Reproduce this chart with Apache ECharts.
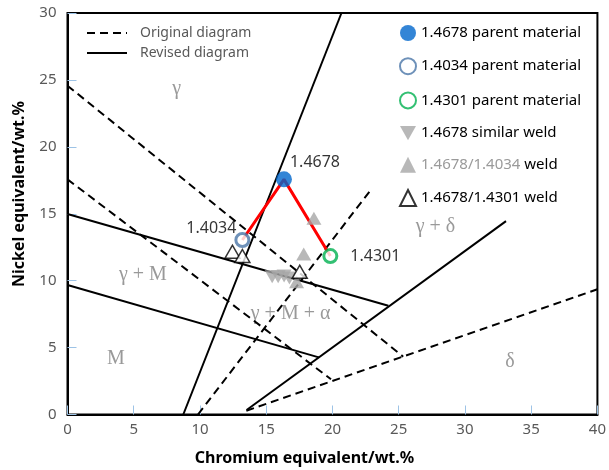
<!DOCTYPE html>
<html>
<head>
<meta charset="utf-8">
<script src="https://cdn.jsdelivr.net/npm/echarts@6/dist/echarts.min.js"></script>
<style>html,body{margin:0;padding:0;background:#fff}#c{width:609px;height:470px}</style>
</head>
<body>
<div id="c"></div>
<script>
// ---- data ----
const xTicks = [0,5,10,15,20,25,30,35,40];
const yTicks = [0,5,10,15,20,25,30];
const revisedLines = [
  [[8.74,0],[20.68,30]],
  [[0,14.98],[24.22,8.13]],
  [[0,9.68],[18.97,4.27]],
  [[13.52,0.34],[33.1,14.45]]
];
const originalLines = [
  [[0,24.57],[25.34,4.32]],
  [[0,17.57],[19.89,2.63]],
  [[9.85,0],[23.0,16.92]],
  [[13.5,0.28],[40,9.36]]
];
const parent4678 = [[16.34,17.57]];
const parent4034 = [[13.2,13.04]];
const parent4301 = [[19.84,11.84]];
const connector = [[13.2,13.04],[16.34,17.57],[19.84,11.84]];
const similarWeld = [[15.45,10.3],[15.9,10.3],[16.35,10.35],[16.75,10.2]];
const weld4034 = [[18.6,14.66],[17.83,11.99],[17.29,9.92]];
const weld4301 = [[12.45,12.16],[13.2,11.84],[17.53,10.67]];
const regionNames = ['γ','γ + δ','γ + M','γ + M + α','M','δ'];
const regionPos = [[8.24,24.37],[27.77,14.01],[5.69,10.42],[16.84,7.56],[3.66,4.15],[33.4,3.95]];

const names = ['1.4678 parent material','1.4034 parent material','1.4301 parent material','1.4678 similar weld','1.4678/1.4034 weld','1.4678/1.4301 weld'];

const chart = echarts.init(document.getElementById('c'));
const FONT = 'Noto Sans';
const series = [];
originalLines.forEach(seg => series.push({
  name:'Original diagram', type:'line', data:seg, symbol:'none', silent:true, z:2,
  itemStyle:{color:'#000'},
  lineStyle:{color:'#000', width:2, type:[8,5]}
}));
revisedLines.forEach(seg => series.push({
  name:'Revised diagram', type:'line', data:seg, symbol:'none', silent:true, z:2,
  itemStyle:{color:'#000'},
  lineStyle:{color:'#000', width:2, type:'solid'}
}));
series.push({type:'line', name:'conn', data:connector, symbol:'none', silent:true, z:3,
  lineStyle:{color:'#ff0000', width:3}});
series.push({type:'scatter', name:'regions', z:1, silent:true, symbolSize:0,
  data: regionPos.map((p,i)=>({value:p, name:regionNames[i]})),
  label:{show:true, position:'inside', formatter:p=>p.name, color:'#808080',
    fontFamily:'Liberation Serif', fontSize:20}});
const down = 'path://M0,0L10,0L5,9Z';
series.push({type:'scatter', name:names[3], data:similarWeld, symbol:down, symbolSize:[15,13], z:4,
  itemStyle:{color:'#a6a6a6'}});
series.push({type:'scatter', name:names[4], data:weld4034, symbol:'triangle', symbolSize:[15,13], z:4,
  itemStyle:{color:'#a6a6a6'}});
series.push({type:'scatter', name:names[5], data:weld4301, symbol:'triangle', symbolSize:[15,13], z:5,
  itemStyle:{color:'#fff', borderColor:'#000', borderWidth:1.5}});
series.push({type:'scatter', name:names[0], data:parent4678, symbol:'circle', symbolSize:16, z:6,
  itemStyle:{color:'#0066cc'},
  label:{show:true, position:'right', distance:0, offset:[-2,-17], formatter:'1.4678', color:'#000', fontFamily:FONT, fontSize:16}});
series.push({type:'scatter', name:names[1], data:parent4034, symbol:'circle', symbolSize:13, z:6,
  itemStyle:{color:'#fff', borderColor:'#4a76a8', borderWidth:3},
  label:{show:true, position:'left', distance:0, offset:[2,-12], formatter:'1.4034', color:'#000', fontFamily:FONT, fontSize:16}});
series.push({type:'scatter', name:names[2], data:parent4301, symbol:'circle', symbolSize:13, z:6,
  itemStyle:{color:'#fff', borderColor:'#00b050', borderWidth:3},
  label:{show:true, position:'right', distance:12, formatter:'1.4301', color:'#000', fontFamily:FONT, fontSize:16}});

chart.setOption({
  animation:false,
  grid:{left:67.5, right:3.5, top:13, bottom:55.5, show:true, borderColor:'#000', borderWidth:2, containLabel:false},
  xAxis:{type:'value', min:xTicks[0], max:xTicks[xTicks.length-1], interval:5,
    axisLine:{show:true, lineStyle:{color:'#000', width:2}},
    axisTick:{show:true, inside:true, length:9, lineStyle:{color:'#9dc3e6', width:1}},
    axisLabel:{color:'#595959', fontFamily:FONT, fontSize:15, margin:8},
    splitLine:{show:false}},
  yAxis:{type:'value', min:yTicks[0], max:yTicks[yTicks.length-1], interval:5,
    axisLine:{show:true, lineStyle:{color:'#000', width:2}},
    axisTick:{show:true, inside:true, length:9, lineStyle:{color:'#9dc3e6', width:1}},
    axisLabel:{color:'#595959', fontFamily:FONT, fontSize:15, margin:11},
    splitLine:{show:false}},
  legend:[
    {data:['Original diagram','Revised diagram'], orient:'vertical', left:81, top:21,
     itemWidth:40, itemHeight:14, itemGap:6, itemStyle:{opacity:0}, lineStyle:{width:2, color:'#000'},
     textStyle:{color:'#595959', fontFamily:FONT, fontSize:14, padding:[0,0,0,8]}},
    {data:names, orient:'vertical', left:394, top:20, itemWidth:16, itemHeight:16, itemGap:16.2,
     formatter: n => n === names[4] ? '{g|1.4678/1.4034} {b|weld}' : n,
     textStyle:{color:'#000', fontFamily:FONT, fontSize:15,
       rich:{g:{color:'#9a9a9a', fontFamily:FONT, fontSize:15}, b:{color:'#000', fontFamily:FONT, fontSize:15}}}}
  ],
  graphic:[
    {type:'text', left:'center', x:0, top:450, silent:true,
     style:{text:'Chromium equivalent/wt.%', font:'bold 16px "Noto Sans"', fill:'#000'}},
    {type:'text', x:19, y:194, rotation:Math.PI/2, silent:true,
     style:{text:'Nickel equivalent/wt.%', font:'bold 16px "Noto Sans"', fill:'#000', align:'center', verticalAlign:'middle'}}
  ],
  series:series
});
</script>
</body>
</html>
